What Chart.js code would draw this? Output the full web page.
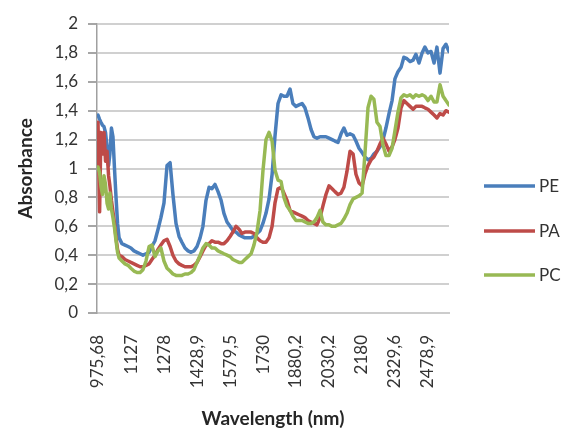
<!DOCTYPE html>
<html>
<head>
<meta charset="utf-8">
<script src="https://cdn.jsdelivr.net/npm/chart.js@4/dist/chart.umd.min.js"></script>
<style>
  html, body { margin: 0; padding: 0; background: #ffffff; }
  #wrap { width: 566px; height: 430px; position: relative; }
</style>
</head>
<body>
<div id="wrap"><canvas id="c" width="566" height="430"></canvas></div>
<script>
// ---- data ----
const wavelengths = [975.68, 983, 989, 996, 1003, 1010, 1017, 1024, 1030, 1037, 1044, 1051, 1058, 1065, 1072,
  1085, 1099, 1113, 1126, 1140, 1154, 1168, 1181, 1195, 1209,
  1222, 1236, 1250, 1263, 1277, 1291, 1305, 1318, 1332, 1346,
  1359, 1373, 1387, 1401, 1414, 1428, 1442, 1455, 1469, 1483,
  1496, 1510, 1524, 1538, 1551, 1565, 1579, 1592, 1606, 1620,
  1633, 1647, 1661, 1675, 1688, 1702, 1716, 1729, 1743, 1757,
  1771, 1784, 1798, 1812, 1825, 1839, 1853, 1866, 1880, 1894,
  1908, 1921, 1935, 1949, 1962, 1976, 1990, 2003, 2017, 2031,
  2045, 2058, 2072, 2086, 2099, 2113, 2127, 2141, 2154, 2168,
  2182, 2195, 2209, 2223, 2236, 2250, 2264, 2278, 2291, 2305,
  2319, 2332, 2346, 2360, 2373, 2387, 2401, 2415, 2428, 2442,
  2456, 2469, 2483, 2497, 2511, 2524, 2538, 2552, 2565, 2579];

const pe = [1.37, 1.34, 1.32, 1.30, 1.29, 1.25, 1.15, 1.02, 1.10, 1.28, 1.22, 1.00, 0.80, 0.62, 0.52,
  0.48, 0.47, 0.46, 0.45, 0.43, 0.42, 0.41, 0.40, 0.41, 0.42,
  0.46, 0.50, 0.58, 0.66, 0.76, 1.02, 1.04, 0.82, 0.62, 0.53,
  0.49, 0.45, 0.43, 0.42, 0.43, 0.46, 0.52, 0.60, 0.78, 0.87,
  0.86, 0.89, 0.84, 0.78, 0.69, 0.63, 0.60, 0.57, 0.56, 0.54,
  0.53, 0.52, 0.52, 0.52, 0.53, 0.55, 0.57, 0.62, 0.69, 0.79,
  0.96, 1.22, 1.45, 1.51, 1.50, 1.50, 1.55, 1.45, 1.43, 1.44,
  1.45, 1.42, 1.35, 1.27, 1.22, 1.21, 1.22, 1.22, 1.22, 1.21,
  1.20, 1.19, 1.18, 1.24, 1.28, 1.23, 1.24, 1.23, 1.19, 1.14,
  1.11, 1.08, 1.06, 1.07, 1.10, 1.12, 1.15, 1.20, 1.28, 1.38,
  1.47, 1.62, 1.67, 1.70, 1.77, 1.76, 1.74, 1.75, 1.79, 1.73,
  1.80, 1.84, 1.80, 1.81, 1.73, 1.84, 1.66, 1.83, 1.86, 1.81];

const pa = [1.32, 0.70, 1.25, 1.10, 1.25, 1.05, 1.12, 0.95, 0.88, 0.78, 0.70, 0.62, 0.52, 0.44, 0.40,
  0.39, 0.37, 0.36, 0.35, 0.34, 0.33, 0.32, 0.32, 0.33, 0.34,
  0.37, 0.40, 0.44, 0.47, 0.50, 0.51, 0.46, 0.40, 0.36, 0.34,
  0.33, 0.32, 0.32, 0.32, 0.33, 0.35, 0.39, 0.43, 0.47, 0.48,
  0.50, 0.49, 0.49, 0.48, 0.48, 0.50, 0.53, 0.56, 0.60, 0.58,
  0.55, 0.56, 0.56, 0.56, 0.55, 0.52, 0.50, 0.49, 0.49, 0.52,
  0.60, 0.76, 0.86, 0.87, 0.83, 0.78, 0.71, 0.70, 0.69, 0.68,
  0.67, 0.66, 0.64, 0.63, 0.62, 0.61, 0.66, 0.74, 0.82, 0.88,
  0.86, 0.84, 0.82, 0.83, 0.87, 0.98, 1.12, 1.10, 0.96, 0.90,
  0.88, 0.96, 1.02, 1.06, 1.08, 1.12, 1.17, 1.21, 1.17, 1.12,
  1.15, 1.20, 1.28, 1.42, 1.47, 1.45, 1.43, 1.41, 1.43, 1.43,
  1.43, 1.42, 1.41, 1.39, 1.37, 1.35, 1.38, 1.37, 1.40, 1.39];

const pc = [1.01, 0.97, 0.88, 0.82, 0.95, 0.89, 0.76, 0.72, 0.83, 0.72, 0.66, 0.59, 0.50, 0.42, 0.38,
  0.36, 0.34, 0.33, 0.31, 0.29, 0.28, 0.28, 0.30, 0.36, 0.46,
  0.47, 0.39, 0.43, 0.45, 0.36, 0.31, 0.29, 0.27, 0.26, 0.26,
  0.26, 0.27, 0.27, 0.28, 0.30, 0.35, 0.40, 0.45, 0.48, 0.47,
  0.45, 0.45, 0.43, 0.42, 0.41, 0.40, 0.39, 0.37, 0.36, 0.35,
  0.35, 0.37, 0.39, 0.41, 0.47, 0.56, 0.71, 0.98, 1.20, 1.25,
  1.19, 0.99, 0.92, 0.91, 0.80, 0.74, 0.71, 0.67, 0.64, 0.64,
  0.64, 0.63, 0.62, 0.62, 0.63, 0.66, 0.71, 0.63, 0.61, 0.61,
  0.60, 0.60, 0.61, 0.62, 0.65, 0.69, 0.75, 0.79, 0.80, 0.81,
  0.83, 1.10, 1.42, 1.50, 1.48, 1.32, 1.29, 1.16, 1.09, 1.09,
  1.14, 1.26, 1.39, 1.49, 1.51, 1.50, 1.51, 1.49, 1.51, 1.50,
  1.51, 1.50, 1.47, 1.50, 1.46, 1.46, 1.58, 1.50, 1.47, 1.44];

const seriesNames = ['PE', 'PA', 'PC'];
const xTickValues = [975.68, 1127, 1278, 1428.9, 1579.5, 1730, 1880.2, 2030.2, 2180, 2329.6, 2478.9];
const xTickLabels = ['975,68', '1127', '1278', '1428,9', '1579,5', '1730', '1880,2', '2030,2', '2180', '2329,6', '2478,9'];
const yTickLabels = ['0', '0,2', '0,4', '0,6', '0,8', '1', '1,2', '1,4', '1,6', '1,8', '2'];

// ---- styling ----
const colors = ['#4A7EBB', '#BE4B48', '#98B954'];
const FONT = 'Lato, "Open Sans", "Liberation Sans", sans-serif';
const TEXT = '#333333';

function toPoints(ys) { return ys.map((y, i) => ({ x: wavelengths[i], y: y })); }

const legendPlugin = {
  id: 'sideLegend',
  afterDraw(chart) {
    const ctx = chart.ctx;
    const ys = [186, 231, 275];
    ctx.save();
    chart.data.datasets.forEach((ds, i) => {
      ctx.strokeStyle = ds.borderColor;
      ctx.lineWidth = 3.5;
      ctx.lineCap = 'butt';
      ctx.beginPath();
      ctx.moveTo(484, ys[i]);
      ctx.lineTo(535, ys[i]);
      ctx.stroke();
      ctx.fillStyle = TEXT;
      ctx.font = '17px ' + FONT;
      ctx.textAlign = 'left';
      ctx.textBaseline = 'middle';
      ctx.fillText(ds.label, 539, ys[i] + 1);
    });
    ctx.restore();
  }
};

new Chart(document.getElementById('c'), {
  type: 'line',
  data: {
    datasets: [
      { label: seriesNames[0], data: toPoints(pe), borderColor: colors[0], order: 3 },
      { label: seriesNames[1], data: toPoints(pa), borderColor: colors[1], order: 2 },
      { label: seriesNames[2], data: toPoints(pc), borderColor: colors[2], order: 1 }
    ]
  },
  options: {
    responsive: false,
    animation: false,
    devicePixelRatio: 1,
    layout: { padding: { top: 24, right: 117, left: 0, bottom: 0 } },
    elements: {
      point: { radius: 0 },
      line: { borderWidth: 3.5, tension: 0, borderJoinStyle: 'round', borderCapStyle: 'round', fill: false }
    },
    plugins: {
      legend: { display: false },
      tooltip: { enabled: false }
    },
    scales: {
      x: {
        type: 'linear',
        min: 971.1,
        max: 2579.1,
        afterBuildTicks: (scale) => { scale.ticks = xTickValues.map(v => ({ value: v })); },
        afterFit: (scale) => { scale.height = 117; },
        grid: { display: false },
        border: { display: true, color: '#cccccc', width: 2 },
        ticks: {
          autoSkip: false,
          minRotation: 90,
          maxRotation: 90,
          padding: 14,
          color: TEXT,
          font: { family: FONT, size: 17 },
          callback: (v, i) => xTickLabels[i]
        },
        title: {
          display: true,
          text: 'Wavelength (nm)',
          color: '#262626',
          font: { family: FONT, size: 19, weight: 'bold' },
          padding: { top: 0, bottom: 0 }
        }
      },
      y: {
        min: 0,
        max: 2,
        afterFit: (scale) => { scale.width = 97; },
        grid: { color: '#d0d0d0', lineWidth: 2, tickLength: 9, tickColor: '#a6a6a6' },
        border: { display: true, color: '#a0a0a0', width: 1.5 },
        ticks: {
          stepSize: 0.2,
          padding: 10,
          color: TEXT,
          font: { family: FONT, size: 17 },
          callback: (v, i) => yTickLabels[i]
        },
        title: {
          display: true,
          text: 'Absorbance',
          color: '#262626',
          font: { family: FONT, size: 19, weight: 'bold' },
          padding: { top: 14, bottom: 0 }
        }
      }
    }
  },
  plugins: [legendPlugin]
});
</script>
</body>
</html>
